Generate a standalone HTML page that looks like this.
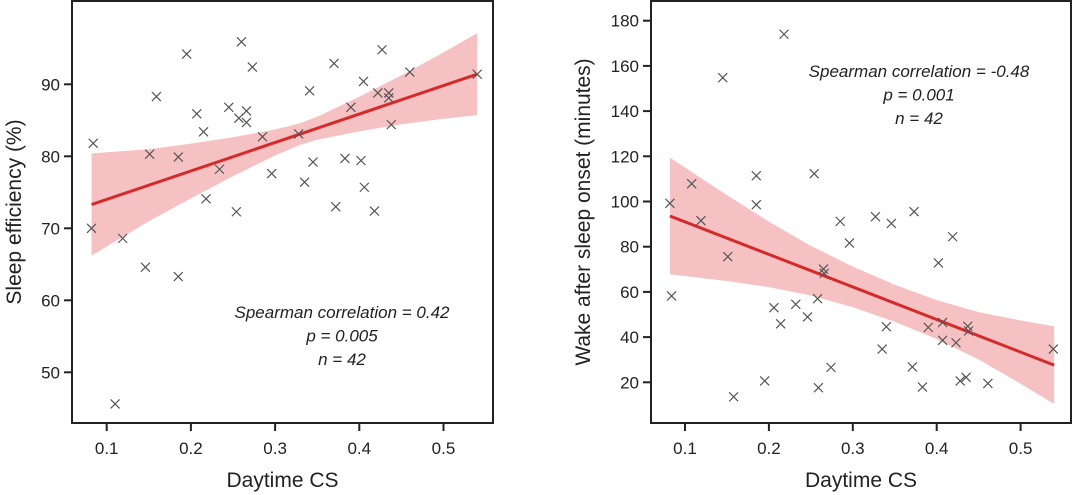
<!DOCTYPE html>
<html><head><meta charset="utf-8"><style>
html,body{margin:0;padding:0;background:#fff;}
svg{display:block;font-family:"Liberation Sans",Arial,sans-serif;}
</style></head><body>
<svg id="c" width="1073" height="495"></svg>
<script>
const leftX=[0.084,0.151,0.185,0.159,0.195,0.207,0.215,0.234,0.218,0.245,0.257,0.260,0.266,0.266,0.273,0.285,0.296,0.254,0.328,0.335,0.341,0.345,0.370,0.383,0.372,0.390,0.402,0.405,0.406,0.418,0.422,0.427,0.435,0.435,0.438,0.460,0.540,0.082,0.119,0.146,0.185,0.110];
const leftY=[81.8,80.3,79.9,88.3,94.2,85.9,83.4,78.2,74.1,86.8,85.3,95.9,86.3,84.7,92.4,82.7,77.6,72.3,83.1,76.4,89.1,79.2,92.9,79.7,73.0,86.8,79.4,90.4,75.7,72.4,88.8,94.8,88.8,88.1,84.4,91.7,91.4,70.0,68.6,64.6,63.3,45.6];
const leftFitX=[0.082,0.540];
const leftFitY=[73.3,91.4];
const leftBandX=[0.082,0.15,0.2,0.25,0.3,0.33,0.35,0.4,0.45,0.5,0.54];
const leftBandHalf=[7.1,5.0,3.8,2.7,1.8,1.5,1.6,2.4,3.4,4.6,5.7];
const leftTicksX=[0.1,0.2,0.3,0.4,0.5];
const leftTicksY=[50,60,70,80,90];

const rightX=[0.218,0.145,0.254,0.185,0.108,0.082,0.185,0.119,0.327,0.346,0.285,0.373,0.296,0.419,0.402,0.151,0.265,0.266,0.084,0.258,0.206,0.232,0.246,0.214,0.340,0.390,0.407,0.437,0.438,0.407,0.423,0.335,0.539,0.274,0.371,0.195,0.259,0.383,0.428,0.435,0.461,0.158];
const rightY=[174,154.8,112.3,111.4,107.9,99.2,98.6,91.5,93.3,90.3,91.2,95.5,81.6,84.4,72.8,75.6,70.1,68.2,58.2,57.0,53.0,54.5,48.9,45.9,44.6,44.3,46.5,44.8,42.7,38.6,37.5,34.7,34.7,26.6,26.8,20.6,17.6,17.9,20.6,22.2,19.5,13.6];
const rightFitX=[0.082,0.540];
const rightFitY=[93.6,27.6];
const rightBandX=[0.082,0.15,0.2,0.25,0.3,0.35,0.4,0.45,0.5,0.54];
const rightBandHalf=[25.8,19,14.5,11,9,8.2,8.6,10.5,14,17.2];
const rightTicksX=[0.1,0.2,0.3,0.4,0.5];
const rightTicksY=[20,40,60,80,100,120,140,160,180];

const NS="http://www.w3.org/2000/svg";
const svg=document.getElementById('c');
function mk(t,a,p){const e=document.createElementNS(NS,t);for(const k in a)e.setAttribute(k,a[k]);(p||svg).appendChild(e);return e;}

function panel(o){
  const g=mk('g',{});
  
  
  const sx=v=>o.x0px+(v-0.1)*o.xs;
  const sy=v=>o.y0px-(v-o.y0v)*o.ys;
  let up=o.bx.map((x,i)=>sx(x)+','+sy(o.fy(x)+o.bh[i]));
  let lo=o.bx.map((x,i)=>sx(x)+','+sy(o.fy(x)-o.bh[i])).reverse();
  const band=mk('polygon',{points:up.concat(lo).join(' '),fill:'#f4b6b8',opacity:'0.85'},g);
  
  
  const ln=mk('line',{x1:sx(o.fx[0]),y1:sy(o.fyv[0]),x2:sx(o.fx[1]),y2:sy(o.fyv[1]),stroke:'#d42a2a','stroke-width':3},g);
  
  
  o.px.forEach((x,i)=>{
    const cx=sx(x),cy=sy(o.py[i]),r=4.5;
    const p=mk('path',{d:`M${cx-r},${cy-r}L${cx+r},${cy+r}M${cx-r},${cy+r}L${cx+r},${cy-r}`,stroke:'#555','stroke-width':1.2,fill:'none'},g);
    
    
  });
  const fr=mk('rect',{x:o.fl,y:1,width:o.fr-o.fl,height:422,fill:'none',stroke:'#222','stroke-width':2},g);
  
  
  o.tx.forEach(v=>{
    const x=sx(v);
    mk('line',{x1:x,y1:423,x2:x,y2:431,stroke:'#222','stroke-width':2},g);
    const t=mk('text',{x:x,y:454,'text-anchor':'middle','font-size':17,fill:'#222'},g);
    t.textContent=v.toFixed(1);
    
    
  });
  o.ty.forEach(v=>{
    const y=sy(v);
    mk('line',{x1:o.fl-8,y1:y,x2:o.fl,y2:y,stroke:'#222','stroke-width':2},g);
    const t=mk('text',{x:o.fl-12,y:y+6,'text-anchor':'end','font-size':17,fill:'#222'},g);
    t.textContent=v;
    
    
  });
  const xt=mk('text',{x:(o.fl+o.fr)/2,y:487,'text-anchor':'middle','font-size':21,fill:'#222'},g);
  xt.textContent='Daytime CS';
  
  
  const yt=mk('text',{x:0,y:0,'text-anchor':'middle','font-size':21,fill:'#222',transform:`translate(${o.ytx},212) rotate(-90)`},g);
  yt.textContent=o.ytitle;
  
  
  o.ann.forEach((s,i)=>{
    const t=mk('text',{x:o.ax,y:o.ay+i*23.5,'text-anchor':'middle','font-size':17,'font-style':'italic',fill:'#222'},g);
    t.textContent=s;
    
    
  });
}
const lslope=(leftFitY[1]-leftFitY[0])/(leftFitX[1]-leftFitX[0]);
const rslope=(rightFitY[1]-rightFitY[0])/(rightFitX[1]-rightFitX[0]);
panel({name:'left-panel',x0px:106.7,xs:842,y0px:84.3,y0v:90,ys:7.2,fl:72,fr:493,
  px:leftX,py:leftY,fx:leftFitX,fyv:leftFitY,fy:x=>leftFitY[0]+(x-leftFitX[0])*lslope,
  bx:leftBandX,bh:leftBandHalf,tx:leftTicksX,ty:leftTicksY,ytx:21,ytitle:'Sleep efficiency (%)',
  ax:342,ay:318,ann:['Spearman correlation = 0.42','p = 0.005','n = 42']});
panel({name:'right-panel',x0px:685,xs:839,y0px:20.7,y0v:180,ys:2.26,fl:651,fr:1071,
  px:rightX,py:rightY,fx:rightFitX,fyv:rightFitY,fy:x=>rightFitY[0]+(x-rightFitX[0])*rslope,
  bx:rightBandX,bh:rightBandHalf,tx:rightTicksX,ty:rightTicksY,ytx:590,ytitle:'Wake after sleep onset (minutes)',
  ax:919,ay:77,ann:['Spearman correlation = -0.48','p = 0.001','n = 42']});
</script>
</body></html>
